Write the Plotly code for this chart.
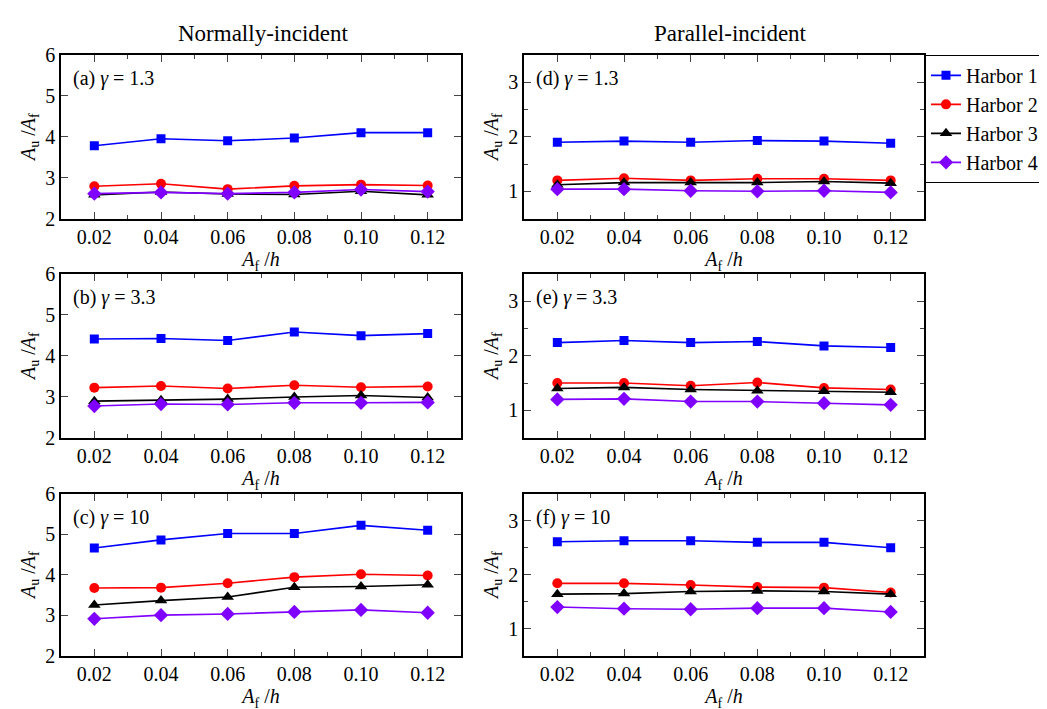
import plotly.graph_objects as go

x_vals = [0.02, 0.04, 0.06, 0.08, 0.10, 0.12]
x_ticks = ["0.02", "0.04", "0.06", "0.08", "0.10", "0.12"]
harbors = ["Harbor 1", "Harbor 2", "Harbor 3", "Harbor 4"]

# Normally-incident
a_h1 = [3.78, 3.95, 3.90, 3.97, 4.10, 4.10]
a_h2 = [2.79, 2.85, 2.72, 2.80, 2.83, 2.81]
a_h3 = [2.58, 2.65, 2.60, 2.59, 2.67, 2.58]
a_h4 = [2.61, 2.64, 2.61, 2.64, 2.71, 2.66]

b_h1 = [4.41, 4.42, 4.37, 4.58, 4.49, 4.54]
b_h2 = [3.22, 3.26, 3.20, 3.28, 3.23, 3.25]
b_h3 = [2.89, 2.91, 2.94, 2.99, 3.03, 2.98]
b_h4 = [2.77, 2.82, 2.81, 2.85, 2.85, 2.86]

c_h1 = [4.66, 4.86, 5.02, 5.02, 5.22, 5.10]
c_h2 = [3.67, 3.68, 3.79, 3.94, 4.01, 3.98]
c_h3 = [3.25, 3.36, 3.45, 3.69, 3.71, 3.75]
c_h4 = [2.91, 3.00, 3.03, 3.08, 3.13, 3.06]

# Parallel-incident
d_h1 = [1.90, 1.92, 1.90, 1.93, 1.92, 1.88]
d_h2 = [1.20, 1.24, 1.20, 1.23, 1.23, 1.20]
d_h3 = [1.12, 1.16, 1.16, 1.16, 1.18, 1.15]
d_h4 = [1.04, 1.04, 1.01, 1.00, 1.01, 0.98]

e_h1 = [2.24, 2.28, 2.24, 2.26, 2.18, 2.15]
e_h2 = [1.50, 1.50, 1.45, 1.51, 1.41, 1.38]
e_h3 = [1.40, 1.42, 1.38, 1.36, 1.35, 1.33]
e_h4 = [1.20, 1.21, 1.16, 1.16, 1.13, 1.10]

f_h1 = [2.61, 2.63, 2.63, 2.60, 2.60, 2.50]
f_h2 = [1.84, 1.84, 1.81, 1.77, 1.76, 1.67]
f_h3 = [1.64, 1.65, 1.69, 1.70, 1.69, 1.64]
f_h4 = [1.40, 1.37, 1.36, 1.38, 1.38, 1.31]

panels = [
    ("(a)", "1.3", [a_h1, a_h2, a_h3, a_h4], 0, 0),
    ("(b)", "3.3", [b_h1, b_h2, b_h3, b_h4], 0, 1),
    ("(c)", "10", [c_h1, c_h2, c_h3, c_h4], 0, 2),
    ("(d)", "1.3", [d_h1, d_h2, d_h3, d_h4], 1, 0),
    ("(e)", "3.3", [e_h1, e_h2, e_h3, e_h4], 1, 1),
    ("(f)", "10", [f_h1, f_h2, f_h3, f_h4], 1, 2),
]

colors = ["#0000FF", "#FF0000", "#000000", "#8000FF"]
symbols = ["square", "circle", "triangle-up", "diamond"]
msizes = [9, 10, 11, 11]

W, H = 1047, 709
col_px = [(53, 453), (516, 916)]
row_px = [(37, 206), (263, 432), (490, 657)]

FONT = "Liberation Serif"
FS = 20

fig = go.Figure()
layout = dict(
    width=W, height=H, margin=dict(l=0, r=0, t=0, b=0),
    plot_bgcolor="white", paper_bgcolor="white",
    font=dict(family=FONT, size=FS, color="black"),
    showlegend=True,
    legend=dict(x=917 / W, y=1 - 37 / H, xanchor="left", yanchor="top",
                bordercolor="black", borderwidth=1, bgcolor="rgba(255,255,255,0)",
                font=dict(size=FS, family=FONT), tracegroupgap=0, itemwidth=30),
)
annotations = []

for i, (lab, gam, series, c, r) in enumerate(panels):
    idx = i + 1
    xname = "xaxis" if idx == 1 else f"xaxis{idx}"
    yname = "yaxis" if idx == 1 else f"yaxis{idx}"
    xref = "x" if idx == 1 else f"x{idx}"
    yref = "y" if idx == 1 else f"y{idx}"
    x0, x1 = col_px[c]
    y0, y1 = row_px[r]
    for k, ys in enumerate(series):
        fig.add_trace(go.Scatter(
            x=x_vals, y=ys, mode="lines+markers", name=harbors[k],
            line=dict(color=colors[k], width=1.6),
            marker=dict(symbol=symbols[k], size=msizes[k], color=colors[k]),
            xaxis=xref, yaxis=yref, showlegend=(i == 3),
        ))
    layout[xname] = dict(
        domain=[x0 / W, x1 / W], anchor=yref, range=[0.01, 0.13],
        tickmode="array", tickvals=x_vals, ticktext=x_ticks,
        ticks="inside", ticklen=7, tickwidth=1.2, mirror="ticks",
        showline=True, linecolor="black", linewidth=1.5, showgrid=False, zeroline=False,
        minor=dict(ticks="inside", dtick=0.01, tick0=0.01, ticklen=4, tickwidth=1, showgrid=False),
        tickfont=dict(size=FS, family=FONT),
        title=dict(text="<i>A</i><sub>f</sub> /<i>h</i>", font=dict(size=FS, family=FONT), standoff=0),
    )
    if c == 0:
        yr, yt = [2, 6], [2, 3, 4, 5, 6]
        yminor = dict(ticks="", showgrid=False)
    else:
        yr, yt = [0.5, 3.5], [1, 2, 3]
        yminor = dict(ticks="inside", dtick=0.5, tick0=0.5, ticklen=4, tickwidth=1, showgrid=False)
    layout[yname] = dict(
        domain=[1 - y1 / H, 1 - y0 / H], anchor=xref, range=yr,
        tickmode="array", tickvals=yt, ticktext=[str(v) for v in yt],
        ticks="inside", ticklen=7, tickwidth=1.2, mirror="ticks",
        showline=True, linecolor="black", linewidth=1.5, showgrid=False, zeroline=False,
        minor=yminor,
        tickfont=dict(size=FS, family=FONT),
        title=dict(text="<i>A</i><sub>u</sub> /<i>A</i><sub>f</sub>", font=dict(size=FS, family=FONT), standoff=4),
    )
    annotations.append(dict(
        text=f"{lab} <i>γ</i> = {gam}", xref=f"{xref} domain", yref=f"{yref} domain",
        x=0.025, y=0.855, xanchor="left", yanchor="middle", showarrow=False,
        font=dict(size=FS, family=FONT),
    ))

annotations.append(dict(text="Normally-incident", xref="paper", yref="paper",
                        x=255 / W, y=1 - 15 / H,
                        xanchor="center", yanchor="middle", showarrow=False,
                        font=dict(size=23, family=FONT)))
annotations.append(dict(text="Parallel-incident", xref="paper", yref="paper",
                        x=722 / W, y=1 - 15 / H,
                        xanchor="center", yanchor="middle", showarrow=False,
                        font=dict(size=23, family=FONT)))
layout["annotations"] = annotations
fig.update_layout(**layout)
fig.write_html("out.html")
